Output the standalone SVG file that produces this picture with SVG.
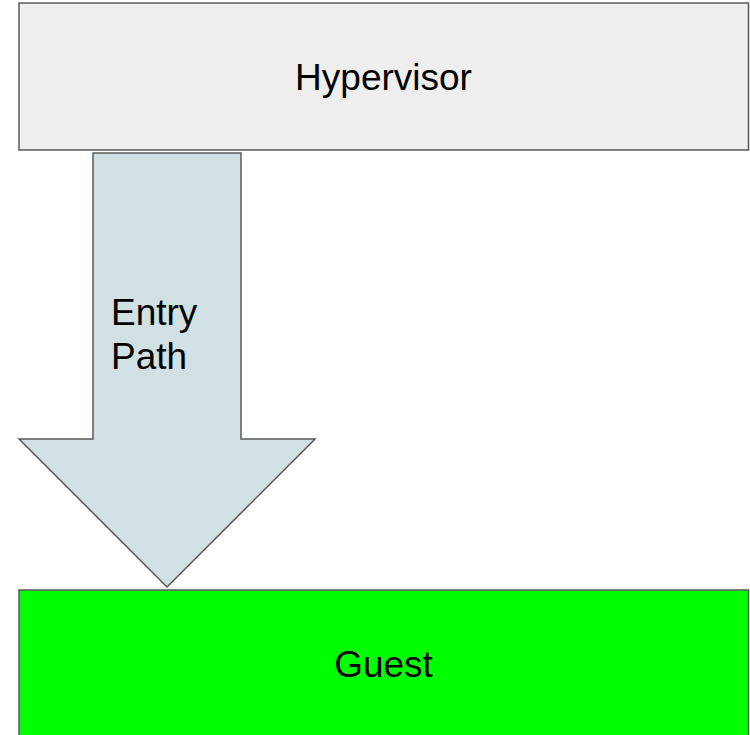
<svg xmlns="http://www.w3.org/2000/svg" width="750" height="735" viewBox="0 0 750 735">
  <style>
    .box { stroke: #595959; stroke-width: 1.5; }
    .label { font-family: "Liberation Sans", Arial, sans-serif; font-size: 37px; fill: #000000; }
  </style>
  <rect width="750" height="735" fill="#ffffff"/>
  <g id="hypervisor">
    <rect class="box" x="19" y="3" width="729.5" height="147" fill="#eeeeee"/>
    <text class="label" x="383.5" y="90" text-anchor="middle">Hypervisor</text>
  </g>
  <g id="guest">
    <rect class="box" x="19" y="590" width="729.5" height="150" fill="#00ff00"/>
    <text class="label" x="383.5" y="677" text-anchor="middle">Guest</text>
  </g>
  <g id="connectors">
    <g id="entry-path">
      <polygon class="box" fill="#d0e0e3" points="93,153 241,153 241,439 315,439 167,587 19,439 93,439"/>
      <text class="label" x="111" y="325">Entry</text>
      <text class="label" x="111" y="369">Path</text>
    </g>
  </g>
</svg>
